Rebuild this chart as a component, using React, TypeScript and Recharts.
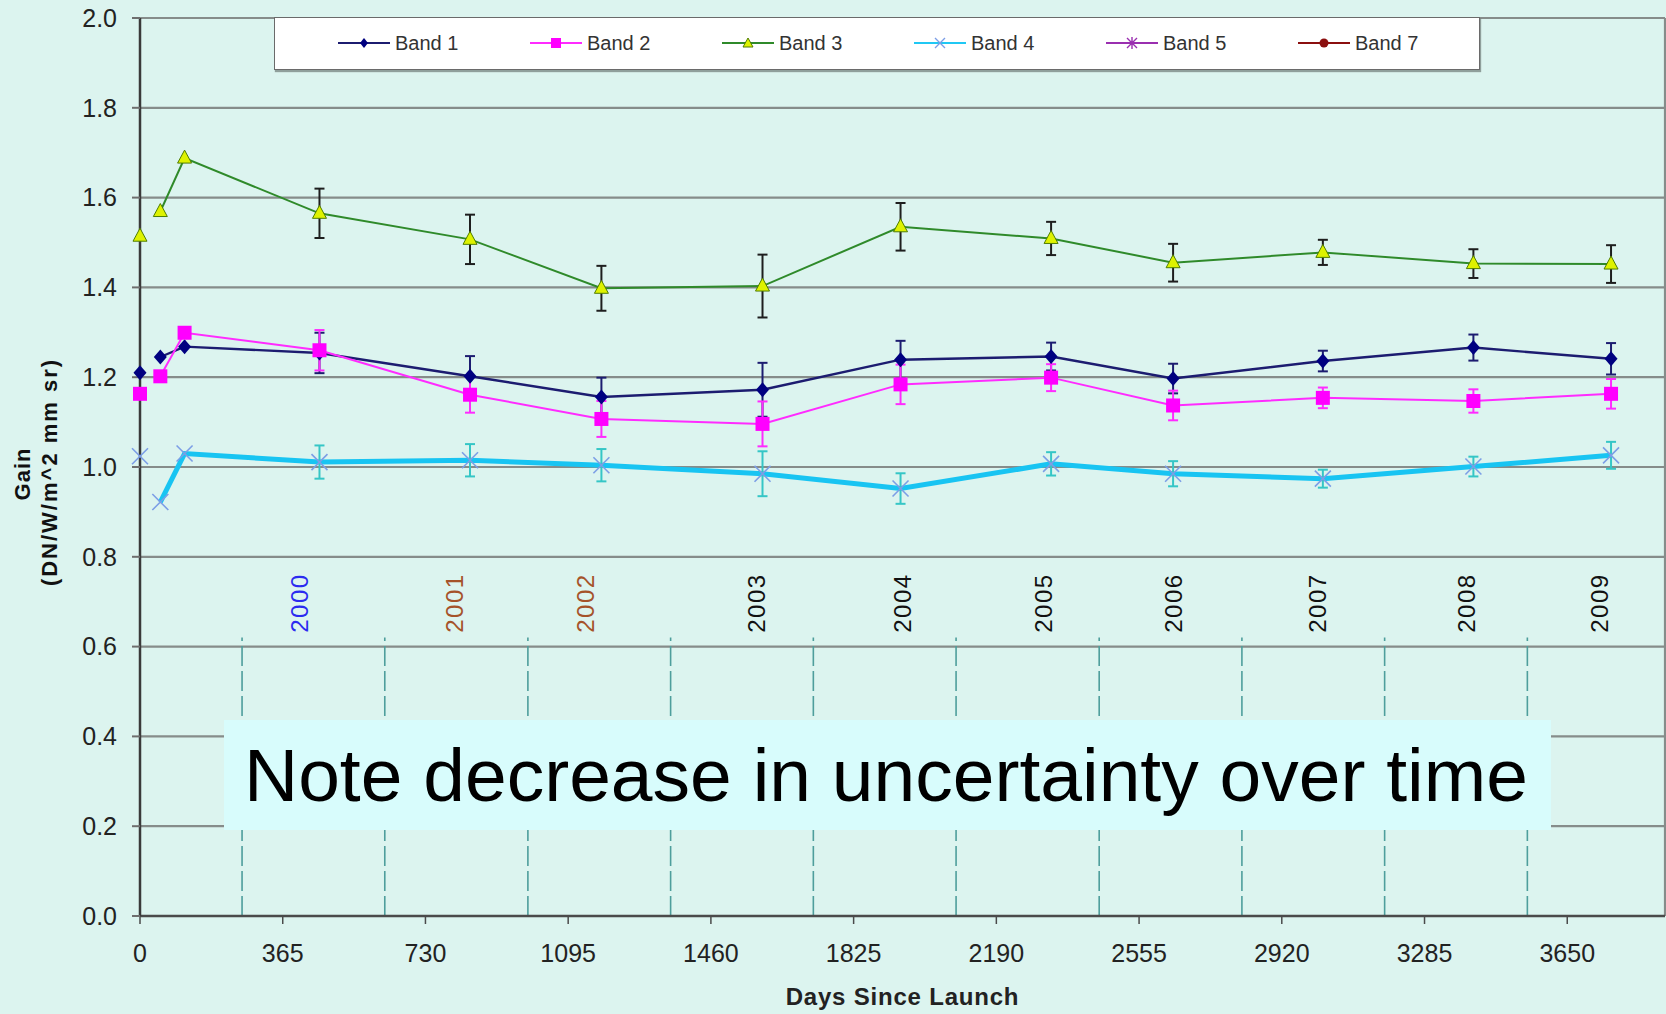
import { CartesianGrid, ComposedChart, ErrorBar, Line, ReferenceDot, ReferenceLine, XAxis, YAxis } from "recharts";

// days since launch for each calibration campaign
const days = [0, 52, 114, 459, 844, 1180, 1592, 1945, 2330, 2642, 3025, 3410, 3762];

// gain per band; the error lists start at the 4th campaign
const band1 = [1.21, 1.245, 1.268, 1.254, 1.202, 1.156, 1.172, 1.239, 1.246, 1.197, 1.236, 1.266, 1.241];
const band1Err = [0.045, 0.045, 0.043, 0.06, 0.042, 0.031, 0.033, 0.023, 0.029, 0.035];
const band2 = [1.163, 1.202, 1.299, 1.26, 1.161, 1.107, 1.096, 1.184, 1.199, 1.137, 1.154, 1.147, 1.163];
const band2Err = [0.045, 0.04, 0.04, 0.05, 0.044, 0.03, 0.033, 0.023, 0.026, 0.033];
const band3 = [1.514, 1.569, 1.688, 1.565, 1.507, 1.398, 1.403, 1.535, 1.509, 1.455, 1.478, 1.453, 1.452];
const band3Err = [0.055, 0.055, 0.05, 0.07, 0.053, 0.037, 0.042, 0.028, 0.032, 0.042];
const band4 = [1.024, 0.922, 1.03, 1.011, 1.015, 1.004, 0.985, 0.952, 1.007, 0.985, 0.974, 1.001, 1.026];
const band4Err = [0.037, 0.036, 0.036, 0.05, 0.034, 0.026, 0.028, 0.02, 0.022, 0.03];

const xTicks = [0, 365, 730, 1095, 1460, 1825, 2190, 2555, 2920, 3285, 3650];
const yTicks = [0, 0.2, 0.4, 0.6, 0.8, 1.0, 1.2, 1.4, 1.6, 1.8, 2.0];

// Jan 1 of each year, in days since launch
const yearStarts = [261, 626, 992, 1357, 1722, 2087, 2453, 2818, 3183, 3548];
const yearLabels = ["2000", "2001", "2002", "2003", "2004", "2005", "2006", "2007", "2008", "2009"];
const yearLabelDays = [407, 803, 1140, 1577, 1951, 2311, 2642, 3011, 3393, 3732];
const yearLabelColors = ["#2b2bf0", "#a5532a", "#a5532a", "#111", "#111", "#111", "#111", "#111", "#111", "#111"];

const legendNames = ["Band 1", "Band 2", "Band 3", "Band 4", "Band 5", "Band 7"];
const legendColors = ["#1c1c70", "#ff2bff", "#2f8a2a", "#20c8f4", "#9a2fb0", "#8b0f0f"];

const FONT = "'Liberation Sans', Arial, sans-serif";

type DotProps = { cx?: number | null; cy?: number | null; index?: number };

const diamond = (fill: string) => (p: DotProps) =>
  p.cx == null || p.cy == null ? (
    <g key={p.index} />
  ) : (
    <polygon
      key={p.index}
      points={`${p.cx},${p.cy - 7.5} ${p.cx + 6.5},${p.cy} ${p.cx},${p.cy + 7.5} ${p.cx - 6.5},${p.cy}`}
      fill={fill}
    />
  );

const square = (fill: string) => (p: DotProps) =>
  p.cx == null || p.cy == null ? (
    <g key={p.index} />
  ) : (
    <rect key={p.index} x={p.cx - 7} y={p.cy - 7} width={14} height={14} fill={fill} />
  );

const triangle = (fill: string) => (p: DotProps) =>
  p.cx == null || p.cy == null ? (
    <g key={p.index} />
  ) : (
    <polygon
      key={p.index}
      points={`${p.cx},${p.cy - 8} ${p.cx + 7},${p.cy + 5} ${p.cx - 7},${p.cy + 5}`}
      fill={fill}
      stroke="#4f7d00"
      strokeWidth={1}
    />
  );

const cross = (color: string) => (p: DotProps) =>
  p.cx == null || p.cy == null ? (
    <g key={p.index} />
  ) : (
    <path
      key={p.index}
      d={`M${p.cx - 8},${p.cy - 8}L${p.cx + 8},${p.cy + 8}M${p.cx - 8},${p.cy + 8}L${p.cx + 8},${p.cy - 8}`}
      stroke={color}
      strokeWidth={1.6}
      fill="none"
    />
  );

function split(values: number[], errs: number[]) {
  return {
    start: [{ day: days[0], v: values[0] }],
    line: days.slice(1).map((d, i) => ({ day: d, v: values[i + 1] })),
    err: days.slice(3).map((d, i) => ({ day: d, v: values[i + 3], e: errs[i] })),
  };
}

const bands = [
  { id: "b3", ...split(band3, band3Err), stroke: "#2f8a2a", width: 2, errColor: "#1e1e1e", dot: triangle("#def200") },
  { id: "b1", ...split(band1, band1Err), stroke: "#1c1c70", width: 2.4, errColor: "#1c1c70", dot: diamond("#000080") },
  { id: "b2", ...split(band2, band2Err), stroke: "#ff2bff", width: 2, errColor: "#ff2bff", dot: square("#ff00ff") },
  { id: "b4", ...split(band4, band4Err), stroke: "#18c4f2", width: 5, errColor: "#35c6c6", dot: cross("#7c9ee6") },
];

function LegendMark({ i }: { i: number }) {
  const c = legendColors[i];
  return (
    <svg width={52} height={16} style={{ display: "block" }}>
      <line x1={0} y1={8} x2={52} y2={8} stroke={c} strokeWidth={2} />
      {i === 0 && <polygon points="26,3 30,8 26,13 22,8" fill="#000080" />}
      {i === 1 && <rect x={21} y={3} width={10} height={10} fill="#ff00ff" />}
      {i === 2 && <polygon points="26,3 31,12 21,12" fill="#def200" stroke="#4f7d00" strokeWidth={1} />}
      {i === 3 && <path d="M21,3L31,13M21,13L31,3" stroke="#7c9ee6" strokeWidth={1.4} />}
      {i === 4 && <path d="M21,3L31,13M21,13L31,3M26,2L26,14" stroke="#9a2fb0" strokeWidth={1.4} />}
      {i === 5 && <circle cx={26} cy={8} r={4.5} fill="#8b0f0f" />}
    </svg>
  );
}

function GainLabel({ viewBox }: any) {
  const cy = viewBox.y + viewBox.height / 2 + 7;
  return (
    <g fontFamily={FONT} fontWeight="bold" fill="#111">
      <text transform={`translate(22, ${cy}) rotate(-90)`} textAnchor="middle" dominantBaseline="central" fontSize={22} letterSpacing={1}>
        Gain
      </text>
      <text transform={`translate(49, ${cy - 2}) rotate(-90)`} textAnchor="middle" dominantBaseline="central" fontSize={22} letterSpacing={2}>
        (DN/W/m^2 mm sr)
      </text>
    </g>
  );
}

export default function App() {
  return (
    <div style={{ position: "relative", width: 1666, height: 1014, background: "#dcf4ef", fontFamily: FONT }}>
      <style>{"body{margin:0}"}</style>
      <ComposedChart width={1666} height={1014} margin={{ top: 18, right: 1, bottom: 0, left: 0 }}>
        <CartesianGrid vertical={false} stroke="#868c8a" strokeWidth={2.2} />
        <XAxis
          dataKey="day"
          type="number"
          domain={[0, 3900]}
          ticks={xTicks}
          height={98}
          tickSize={8}
          tickMargin={20}
          axisLine={{ stroke: "#4a4a4a", strokeWidth: 2.5 }}
          tickLine={{ stroke: "#4a4a4a", strokeWidth: 1.5 }}
          tick={{ fill: "#222", fontSize: 25, fontFamily: FONT }}
          label={{ value: "Days Since Launch", position: "insideBottom", offset: 9, fontSize: 24, fontWeight: "bold", fill: "#222", fontFamily: FONT, letterSpacing: 0.8 }}
        />
        <YAxis
          type="number"
          domain={[0, 2]}
          ticks={yTicks}
          width={140}
          tickSize={8}
          tickMargin={15}
          tickFormatter={(v: number) => v.toFixed(1)}
          axisLine={{ stroke: "#3a3a3a", strokeWidth: 2.5 }}
          tickLine={{ stroke: "#6e6e6e", strokeWidth: 2 }}
          tick={{ fill: "#222", fontSize: 25, fontFamily: FONT }}
          label={{ content: GainLabel }}
        />
        <ReferenceLine x={3900} stroke="#868c8a" strokeWidth={2.2} />
        {yearStarts.map((d) => (
          <ReferenceLine
            key={d}
            segment={[
              { x: d, y: 0 },
              { x: d, y: 0.62 },
            ]}
            stroke="#4e9e9c"
            strokeWidth={1.6}
            strokeDasharray="20 5"
          />
        ))}
        {yearLabels.map((y, i) => (
          <ReferenceDot
            key={y}
            x={yearLabelDays[i]}
            y={0.697}
            r={0}
            stroke="none"
            label={{ value: y, angle: -90, position: "center", fill: yearLabelColors[i], fontSize: 24, fontFamily: FONT, letterSpacing: 1.5 }}
          />
        ))}
        {bands.map((b) => [
          <Line
            key={b.id + "-line"}
            data={b.line}
            dataKey="v"
            stroke={b.stroke}
            strokeWidth={b.width}
            dot={false}
            activeDot={false}
            isAnimationActive={false}
          />,
          <Line
            key={b.id + "-err"}
            data={b.err}
            dataKey="v"
            stroke="none"
            dot={false}
            activeDot={false}
            isAnimationActive={false}
          >
            <ErrorBar dataKey="e" direction="y" width={5} stroke={b.errColor} strokeWidth={2} isAnimationActive={false} />
          </Line>,
          <Line
            key={b.id + "-dots"}
            data={[...b.start, ...b.line]}
            dataKey="v"
            stroke="none"
            dot={b.dot}
            activeDot={false}
            isAnimationActive={false}
          />,
        ])}
      </ComposedChart>

      <div
        style={{
          position: "absolute",
          left: 274,
          top: 17,
          width: 1204,
          height: 51,
          background: "#fff",
          border: "1px solid #6a6a6a",
          boxShadow: "1px 2px 1px rgba(0,0,0,0.35)",
        }}
      >
        {legendNames.map((n, i) => (
          <div
            key={n}
            style={{ position: "absolute", left: 63 + i * 192, top: 17, display: "flex", alignItems: "center", gap: 5 }}
          >
            <LegendMark i={i} />
            <span style={{ fontSize: 20, color: "#333", lineHeight: "16px" }}>{n}</span>
          </div>
        ))}
      </div>

      <div
        style={{
          position: "absolute",
          left: 224,
          top: 720,
          width: 1327,
          height: 110,
          background: "#d8fcfc",
          fontSize: 75,
          lineHeight: "110px",
          paddingLeft: 20,
          boxSizing: "border-box",
          color: "#000",
          whiteSpace: "nowrap",
        }}
      >
        Note decrease in uncertainty over time
      </div>
    </div>
  );
}
